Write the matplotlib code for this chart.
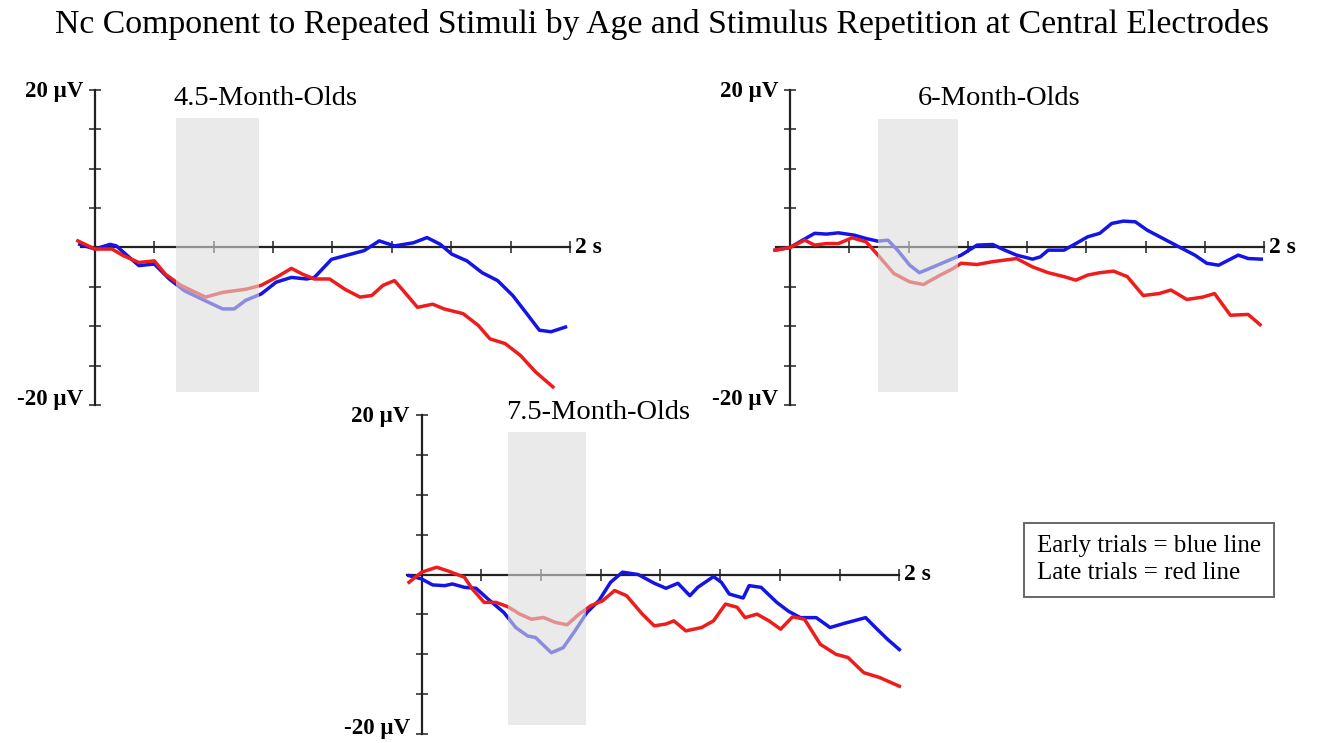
import matplotlib.pyplot as plt

plt.rcParams["font.family"] = ["Liberation Serif", "DejaVu Serif"]

# ---- data (time in s, amplitude in µV) ----
# 4.5-month-olds
t45_early = [-0.064, 0, 0.064, 0.09, 0.137, 0.185, 0.25, 0.313, 0.377, 0.474, 0.538, 0.586,
             0.635, 0.70, 0.763, 0.827, 0.892, 0.924, 0.996, 1.052, 1.133, 1.197, 1.261,
             1.341, 1.398, 1.454, 1.502, 1.566, 1.63, 1.695, 1.759, 1.823, 1.871, 1.92, 1.981]
uv45_early = [0.4, -0.2, 0.4, 0.2, -1.05, -2.3, -2.1, -4.0, -5.5, -6.9, -7.8, -7.8,
              -6.7, -5.9, -4.4, -3.8, -4.0, -3.8, -1.5, -1.05, -0.4, 0.84, 0.2,
              0.6, 1.26, 0.4, -0.84, -1.7, -3.2, -4.2, -6.1, -8.6, -10.5, -10.7, -10.1]
t45_late = [-0.072, 0, 0.072, 0.12, 0.185, 0.25, 0.297, 0.361, 0.466, 0.538, 0.635, 0.70,
            0.763, 0.827, 0.875, 0.924, 0.988, 1.052, 1.116, 1.165, 1.213, 1.261, 1.293,
            1.358, 1.422, 1.47, 1.55, 1.614, 1.663, 1.727, 1.791, 1.855, 1.928]
uv45_late = [0.84, -0.2, -0.2, -1.05, -1.9, -1.7, -3.4, -4.8, -6.3, -5.7, -5.3, -4.8,
             -3.8, -2.65, -3.4, -4.0, -4.0, -5.3, -6.3, -6.1, -4.8, -4.2, -5.3,
             -7.6, -7.2, -7.8, -8.4, -9.9, -11.6, -12.2, -13.7, -15.8, -17.7]

# 6-month-olds
t6_early = [-0.063, 0, 0.053, 0.104, 0.154, 0.204, 0.271, 0.321, 0.371, 0.413, 0.454, 0.505,
            0.546, 0.605, 0.672, 0.722, 0.789, 0.855, 0.906, 0.956, 1.023, 1.056, 1.089,
            1.156, 1.206, 1.256, 1.307, 1.357, 1.407, 1.457, 1.507, 1.574, 1.641, 1.708,
            1.758, 1.808, 1.85, 1.891, 1.933, 1.988]
uv6_early = [-0.34, 0, 0.93, 1.8, 1.7, 1.86, 1.57, 1.14, 0.8, 0.93, -0.34, -2.25,
             -3.2, -2.46, -1.6, -0.97, 0.3, 0.38, -0.34, -0.97, -1.48, -1.19, -0.34,
             -0.34, 0.5, 1.36, 1.8, 3.05, 3.35, 3.26, 2.2, 1.14, 0.08, -0.97,
             -2.0, -2.25, -1.6, -0.97, -1.4, -1.48]
t6_late = [-0.063, 0, 0.062, 0.104, 0.154, 0.204, 0.262, 0.321, 0.371, 0.438, 0.505, 0.563,
           0.622, 0.688, 0.722, 0.789, 0.855, 0.906, 0.956, 1.023, 1.089, 1.156, 1.206,
           1.256, 1.307, 1.365, 1.423, 1.49, 1.557, 1.607, 1.674, 1.741, 1.791, 1.858,
           1.933, 1.983]
uv6_late = [-0.34, 0, 0.93, 0.3, 0.5, 0.5, 1.23, 0.72, -0.97, -3.3, -4.36, -4.7,
            -3.7, -2.67, -2.0, -2.16, -1.8, -1.6, -1.4, -2.46, -3.2, -3.7, -4.15,
            -3.5, -3.2, -3.0, -3.7, -6.1, -5.85, -5.4, -6.6, -6.3, -5.85, -8.6,
            -8.5, -9.8]

# 7.5-month-olds
t75_early = [-0.053, 0, 0.046, 0.096, 0.129, 0.179, 0.228, 0.278, 0.344, 0.394, 0.444, 0.477,
             0.543, 0.593, 0.642, 0.692, 0.742, 0.791, 0.841, 0.907, 0.974, 1.023, 1.073,
             1.123, 1.156, 1.222, 1.255, 1.288, 1.346, 1.371, 1.421, 1.487, 1.536, 1.586,
             1.652, 1.71, 1.768, 1.834, 1.859, 1.90, 1.95, 2.0]
uv75_early = [-0.13, -0.55, -1.3, -1.39, -1.18, -1.6, -1.72, -3.07, -4.75, -6.64, -7.7, -7.9,
              -9.8, -9.16, -7.06, -4.75, -3.28, -0.97, 0.3, 0.0, -1.09, -1.72, -1.09,
              -2.65, -1.6, -0.25, -0.97, -2.44, -2.94, -1.39, -1.6, -3.49, -4.6, -5.4,
              -5.4, -6.64, -6.13, -5.6, -5.4, -6.64, -8.1, -9.4]
t75_late = [-0.053, 0, 0.063, 0.113, 0.179, 0.212, 0.262, 0.311, 0.361, 0.411, 0.46, 0.51,
            0.56, 0.609, 0.659, 0.709, 0.758, 0.808, 0.858, 0.924, 0.974, 1.023, 1.056,
            1.106, 1.172, 1.222, 1.272, 1.321, 1.354, 1.404, 1.454, 1.503, 1.553, 1.603,
            1.669, 1.735, 1.785, 1.851, 1.917, 2.0]
uv75_late = [-0.97, 0.3, 0.92, 0.42, -0.34, -1.8, -3.49, -3.49, -4.03, -4.96, -5.6, -5.38,
             -6.0, -6.3, -4.96, -3.9, -3.28, -2.0, -2.65, -4.96, -6.43, -6.2, -5.8,
             -7.06, -6.64, -5.8, -3.7, -4.1, -5.4, -4.96, -5.8, -6.85, -5.3, -5.6,
             -8.74, -10.0, -10.4, -12.3, -12.9, -14.0]

# Nc analysis window per panel (start s, end s, bottom µV, top µV)
window45 = [0.34, 0.69, -18.3, 16.4]
window6 = [0.37, 0.71, -18.3, 16.3]
window75 = [0.36, 0.69, -18.9, 17.9]

titles = ["4.5-Month-Olds", "6-Month-Olds", "7.5-Month-Olds"]
x_ticks = [0.25, 0.5, 0.75, 1.0, 1.25, 1.5, 1.75, 2.0]
y_ticks = [-20, -15, -10, -5, 0, 5, 10, 15, 20]

BLUE = "#1414e6"
RED = "#ee1c1c"

fig = plt.figure(figsize=(13.21, 7.43), dpi=100)
fig.text(0.501, 0.967, "Nc Component to Repeated Stimuli by Age and Stimulus Repetition at Central Electrodes",
         ha="center", va="center", fontsize=24.3)


def draw_panel(ax, title, title_xy, early, late, window):
    ax.plot(early[0], early[1], color=BLUE, lw=2.5, zorder=3, clip_on=False)
    ax.plot(late[0], late[1], color=RED, lw=2.5, zorder=3, clip_on=False)
    ax.fill_between([window[0], window[1]], window[2], window[3],
                    color="#dcdcdc", alpha=0.6, lw=0, zorder=5)

    ax.set_xlim(-0.1, 2.0)
    ax.set_ylim(-20, 20)
    for side in ["top", "right"]:
        ax.spines[side].set_visible(False)
    ax.spines["left"].set_position(("data", 0))
    ax.spines["bottom"].set_position(("data", 0))
    ax.spines["bottom"].set_bounds(-0.06, 2.0)
    for side in ["left", "bottom"]:
        ax.spines[side].set_linewidth(1.6)
        ax.spines[side].set_color("#222222")
    ax.set_xticks(x_ticks)
    ax.set_yticks(y_ticks)
    ax.tick_params(direction="inout", length=9, width=1.1, color="#222222",
                   labelbottom=False, labelleft=False)
    ax.patch.set_alpha(0)

    ax.text(-0.05, 19.8, "20 µV", ha="right", va="center", fontsize=16.5, fontweight="bold")
    ax.text(-0.05, -19.3, "-20 µV", ha="right", va="center", fontsize=16.5, fontweight="bold")
    ax.text(2.02, 0, "2 s", ha="left", va="center", fontsize=17, fontweight="bold")
    ax.text(title_xy[0], title_xy[1], title, ha="center", va="center", fontsize=20.5)


ax1 = fig.add_axes([0.0539, 0.4549, 0.3776, 0.424])
ax2 = fig.add_axes([0.5801, 0.4549, 0.3768, 0.424])
ax3 = fig.add_axes([0.3011, 0.0120, 0.3797, 0.4294])

draw_panel(ax1, titles[0], (0.72, 18.9), (t45_early, uv45_early), (t45_late, uv45_late), window45)
draw_panel(ax2, titles[1], (0.88, 18.9), (t6_early, uv6_early), (t6_late, uv6_late), window6)
draw_panel(ax3, titles[2], (0.74, 20.3), (t75_early, uv75_early), (t75_late, uv75_late), window75)

fig.text(0.785, 0.2465, "Early trials = blue line\nLate trials = red line",
         ha="left", va="center", fontsize=18, linespacing=1.3,
         bbox=dict(boxstyle="square,pad=0.5", fc="white", ec="#666666", lw=1.4))

fig.savefig("out.png", dpi=100)
